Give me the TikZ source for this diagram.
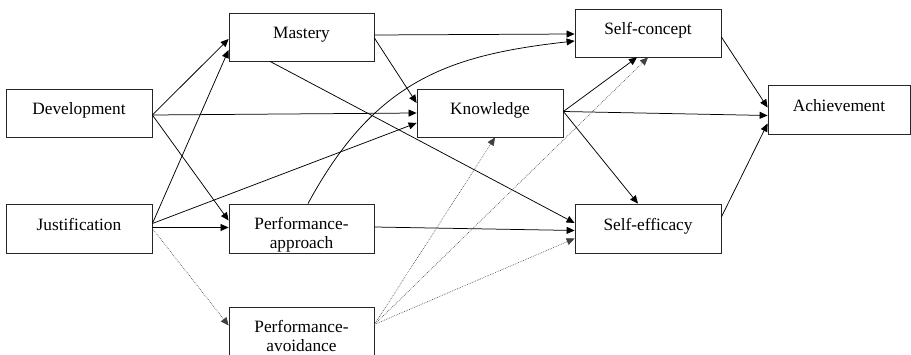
\documentclass[tikz,border=0pt]{standalone}
\usepackage{fontspec}
\setmainfont{Liberation Serif}
\usetikzlibrary{arrows.meta,calc}
\tikzset{
  box/.style={draw=black!85, line width=0.8pt, minimum height=48pt, inner sep=0pt,
    font=\fontsize{17.3}{19}\selectfont, text height=12pt, text depth=8pt},
  twobox/.style={box, text height=12pt, text depth=9pt},
  conn/.style={line width=0.75pt, -{Triangle[length=8pt,width=7pt]}},
  dotconn/.style={line width=0.6pt, black!75, dash pattern=on 0.7pt off 1.1pt,
    -{Triangle[length=8pt,width=7pt]}, every arrow/.append style={solid}},
}
\begin{document}
\begin{tikzpicture}[x=1pt,y=-1pt]
\useasboundingbox (0,0) rectangle (911,355);
\clip (0,0) rectangle (911,355);
% nodes
\node[box, minimum width=146pt] (dev) at (79,113) {Development};
\node[box, minimum width=145pt] (mas) at (301.5,37) {Mastery};
\node[box, minimum width=146pt] (kno) at (490,113) {Knowledge};
\node[box, minimum width=146pt] (sc)  at (648,33) {Self-concept};
\node[box, minimum width=142pt, minimum height=49pt] (ach) at (839,109.5) {Achievement};
\node[box, minimum width=146pt, minimum height=49pt] (jus) at (79,228.5) {Justification};
\node[twobox, minimum width=145pt, minimum height=49pt] (pa) at (301.5,228.5)
  {\begin{tabular}[t]{@{}c@{}}Performance-\\approach\end{tabular}};
\node[twobox, minimum width=145pt, minimum height=49pt] (pv) at (301.5,331.5)
  {\begin{tabular}[t]{@{}c@{}}Performance-\\avoidance\end{tabular}};
\node[box, minimum width=146pt, minimum height=49pt] (se) at (648,228.5) {Self-efficacy};
% connectors from Development
\draw[conn] ($(dev.east)+(0,2)$) -- ($(mas.west)+(0,2)$);
\draw[conn] ($(dev.east)+(0,2)$) -- (kno.west);
\draw[conn] ($(dev.east)+(0,2)$) -- ($(pa.west)+(0,-8)$);
% from Justification
\draw[conn] ($(jus.east)+(0,-5)$) -- ($(mas.west)+(0,13)$);
\draw[conn] ($(jus.east)+(0,-5)$) -- ($(kno.west)+(0,10)$);
\draw[conn] ($(jus.east)+(0,-1)$) -- ($(pa.west)+(0,-1)$);
\draw[dotconn] ($(jus.east)+(0,0)$) -- ($(pv.west)+(0,-6)$);
% from Mastery
\draw[conn] ($(mas.east)+(0,-2)$) -- ($(sc.west)+(0,1)$);
\draw[conn] ($(mas.east)+(0,1)$) -- ($(kno.west)+(0,-10)$);
\draw[conn] ($(mas.south)+(-31.5,0)$) -- ($(se.west)+(0,-5.5)$);
% from Performance-approach
\draw[conn] ($(pa.north)+(6.5,0)$) .. controls +(67,-124) and +(-125,14) .. ($(sc.west)+(0,8)$);
\draw[conn] ($(pa.east)+(0,-1.5)$) -- ($(se.west)+(0,2)$);
% from Performance-avoidance
\draw[dotconn] ($(pv.east)+(0,-7)$) -- ($(kno.south)+(5,0)$);
\draw[dotconn] ($(pv.east)+(0,-7)$) -- (sc.south);
\draw[dotconn] ($(pv.east)+(0,-7)$) -- ($(se.west)+(0,10)$);
% from Knowledge
\draw[conn] ($(kno.east)+(0,-1.5)$) -- ($(sc.south)+(-11,0)$);
\draw[conn] ($(kno.east)+(0,-1.5)$) -- ($(ach.west)+(0,6)$);
\draw[conn] ($(kno.east)+(0,-1.5)$) -- ($(se.north)+(-10,0)$);
% to Achievement
\draw[conn] ($(sc.east)+(0,4)$) -- ($(ach.west)+(0,-2)$);
\draw[conn] ($(se.east)+(0,-11.5)$) -- ($(ach.west)+(0,14)$);
\end{tikzpicture}
\end{document}
